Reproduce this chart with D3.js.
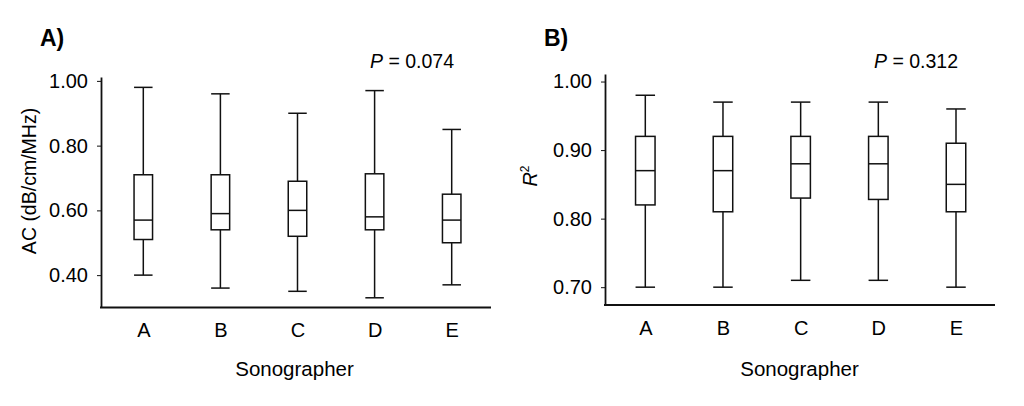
<!DOCTYPE html>
<html>
<head>
<meta charset="utf-8">
<script src="https://cdn.jsdelivr.net/npm/d3@7"></script>
<style>
  html, body { margin: 0; padding: 0; background: #fff; }
  svg { display: block; font-family: Arial, "Liberation Sans", Helvetica, sans-serif; }
  .axis path, .axis line { stroke: #111; }
  .axis text { fill: #000; font-size: 20px; }
  .box rect, .box line { stroke: #111; stroke-width: 1.5; fill: none; }
</style>
</head>
<body>
<div id="chart"></div>
<script>
const categories = ["A", "B", "C", "D", "E"];

// panel A: attenuation coefficient (dB/cm/MHz)
const acMax = [0.98, 0.96, 0.90, 0.97, 0.85];
const acQ3 = [0.71, 0.71, 0.69, 0.713, 0.65];
const acMedian = [0.57, 0.59, 0.60, 0.58, 0.57];
const acQ1 = [0.51, 0.54, 0.52, 0.54, 0.50];
const acMin = [0.40, 0.36, 0.35, 0.33, 0.37];
const acTicks = [0.40, 0.60, 0.80, 1.00];

// panel B: R squared
const r2Max = [0.98, 0.97, 0.97, 0.97, 0.96];
const r2Q3 = [0.92, 0.92, 0.92, 0.92, 0.91];
const r2Median = [0.87, 0.87, 0.88, 0.88, 0.85];
const r2Q1 = [0.82, 0.81, 0.83, 0.828, 0.81];
const r2Min = [0.70, 0.70, 0.71, 0.71, 0.70];
const r2Ticks = [0.70, 0.80, 0.90, 1.00];

const svg = d3.select("#chart")
    .append("svg")
    .attr("width", 1024)
    .attr("height", 406);

const drawPanel = (p) => {
    const rows = categories.map((c, i) => ({
        cat: c, min: p.min[i], q1: p.q1[i], med: p.median[i], q3: p.q3[i], max: p.max[i]
    }));

    const x = d3.scalePoint()
        .domain(categories)
        .range([p.firstX, p.lastX]);

    const y = d3.scaleLinear()
        .domain(p.yDomain)
        .range([p.bottom, p.top]);

    const g = svg.append("g");

    // y axis
    g.append("g")
        .attr("class", "axis")
        .attr("transform", `translate(${p.left},0)`)
        .call(d3.axisLeft(y)
            .tickValues(p.ticks)
            .tickFormat(d3.format(".2f"))
            .tickSize(4)
            .tickSizeOuter(0)
            .tickPadding(9))
        .select(".domain")
        .attr("stroke-width", 1.8);

    // x axis
    const xAxis = g.append("g")
        .attr("class", "axis")
        .attr("transform", `translate(0,${p.bottom})`)
        .call(d3.axisBottom(x).tickSize(0).tickPadding(15.5));
    xAxis.select(".domain").remove();
    xAxis.append("line")
        .attr("x1", p.left - 1)
        .attr("x2", p.right)
        .attr("stroke", "#111")
        .attr("stroke-width", 1.8);

    const box = g.selectAll(".box")
        .data(rows)
        .join("g")
        .attr("class", "box")
        .attr("transform", d => `translate(${x(d.cat)},0)`);

    // whiskers
    box.append("line")
        .attr("y1", d => y(d.max)).attr("y2", d => y(d.q3));
    box.append("line")
        .attr("y1", d => y(d.q1)).attr("y2", d => y(d.min));
    box.append("line")
        .attr("x1", -p.boxW / 2).attr("x2", p.boxW / 2)
        .attr("y1", d => y(d.max)).attr("y2", d => y(d.max));
    box.append("line")
        .attr("x1", -p.boxW / 2).attr("x2", p.boxW / 2)
        .attr("y1", d => y(d.min)).attr("y2", d => y(d.min));

    box.append("rect")
        .attr("x", -p.boxW / 2)
        .attr("width", p.boxW)
        .attr("y", d => y(d.q3))
        .attr("height", d => y(d.q1) - y(d.q3));
    box.append("line")
        .attr("x1", -p.boxW / 2).attr("x2", p.boxW / 2)
        .attr("y1", d => y(d.med)).attr("y2", d => y(d.med));

    // panel letter
    g.append("text")
        .attr("x", p.letterX)
        .attr("y", 45.5)
        .attr("font-size", 23)
        .attr("font-weight", "bold")
        .text(p.letter);

    // P value
    const pv = g.append("text")
        .attr("x", p.pX)
        .attr("y", 68)
        .attr("font-size", 19.5);
    pv.append("tspan").attr("font-style", "italic").text("P");
    pv.append("tspan").text(" = " + p.pValue);

    // x title
    g.append("text")
        .attr("x", p.titleX)
        .attr("y", 376)
        .attr("text-anchor", "middle")
        .attr("font-size", 20.5)
        .text("Sonographer");

    // y title
    const yt = g.append("text")
        .attr("transform", `translate(${p.yTitleX},${p.yTitleY}) rotate(-90)`)
        .attr("text-anchor", "middle")
        .attr("font-size", 19.5);
    p.yTitle(yt);
};

drawPanel({
    letter: "A)", letterX: 40,
    pValue: "0.074", pX: 370,
    min: acMin, q1: acQ1, median: acMedian, q3: acQ3, max: acMax,
    ticks: acTicks, yDomain: [0.30, 1.012],
    left: 101, right: 491, top: 77, bottom: 307.5,
    firstX: 143.3, lastX: 451.7, boxW: 18.5,
    titleX: 294.5,
    yTitleX: 36, yTitleY: 181,
    yTitle: t => t.text("AC (dB/cm/MHz)")
});

drawPanel({
    letter: "B)", letterX: 544,
    pValue: "0.312", pX: 874,
    min: r2Min, q1: r2Q1, median: r2Median, q3: r2Q3, max: r2Max,
    ticks: r2Ticks, yDomain: [0.674, 1.011],
    left: 605, right: 995, top: 74, bottom: 305,
    firstX: 645.3, lastX: 956, boxW: 19.5,
    titleX: 799.5,
    yTitleX: 537, yTitleY: 176,
    yTitle: t => {
        t.append("tspan").attr("font-style", "italic").attr("font-size", 20).text("R");
        t.append("tspan").attr("font-size", 12).attr("dy", -8).text("2");
    }
});
</script>
</body>
</html>
